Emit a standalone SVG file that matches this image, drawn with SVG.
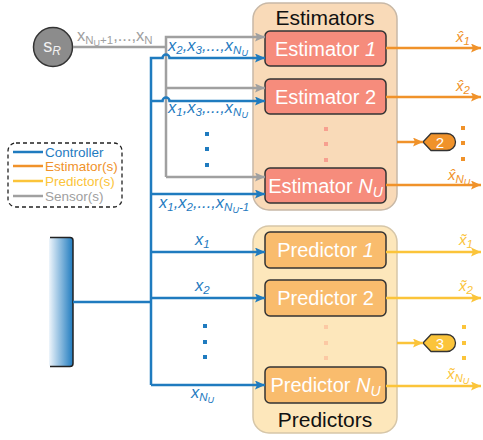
<svg xmlns="http://www.w3.org/2000/svg" width="483" height="440" viewBox="0 0 483 440">
<style>
text{font-family:"Liberation Sans",Arial,sans-serif}
.box{stroke:#333;stroke-width:1.5}
.est{fill:#f68c7c}
.pred{fill:#f9bc6d}
.bt{font-size:20px;fill:#fff}
.title{font-size:21px;fill:#111}
.lb{font-size:16.5px;font-style:italic;fill:#1f7bbf}
.s{font-size:11.5px}
.ss{font-size:9px}
.gl{fill:#a0a0a0;font-size:16.5px}
.ol{fill:#f0922a;font-size:15px;font-style:italic}
.yl{fill:#fbc43a;font-size:15px;font-style:italic}
.g{stroke:#a0a0a0;stroke-width:2.5;fill:none}
.b{stroke:#1f7bbf;stroke-width:2.5;fill:none}
.o{stroke:#f0922a;stroke-width:2.5;fill:none}
.y{stroke:#fbc43a;stroke-width:2.5;fill:none}
.leg{font-size:13.5px}
</style>
<defs>
<marker id="ag" markerUnits="userSpaceOnUse" markerWidth="11" markerHeight="10" refX="10" refY="4.5" orient="auto"><path d="M0,0 L10,4.5 L0,9 L2,4.5z" fill="#a0a0a0"/></marker>
<marker id="ab" markerUnits="userSpaceOnUse" markerWidth="11" markerHeight="10" refX="10" refY="4.5" orient="auto"><path d="M0,0 L10,4.5 L0,9 L2,4.5z" fill="#1f7bbf"/></marker>
<marker id="ao" markerUnits="userSpaceOnUse" markerWidth="11" markerHeight="10" refX="10" refY="4.5" orient="auto"><path d="M0,0 L10,4.5 L0,9 L2,4.5z" fill="#f0922a"/></marker>
<marker id="ay" markerUnits="userSpaceOnUse" markerWidth="11" markerHeight="10" refX="10" refY="4.5" orient="auto"><path d="M0,0 L10,4.5 L0,9 L2,4.5z" fill="#fbc43a"/></marker>
<linearGradient id="cg" x1="0" y1="0" x2="1" y2="0"><stop offset="0" stop-color="#eef5fb"/><stop offset="1" stop-color="#1f7bbf"/></linearGradient>
</defs>

<g id="estimators">
<rect x="253" y="3" width="144" height="207" rx="16" fill="#f9dab8" stroke="#c8b8a6" stroke-width="1.5"/>
<text class="title" x="325" y="25" text-anchor="middle">Estimators</text>
<g fill="#f7a090"><rect x="324" y="127" width="4" height="4"/><rect x="324" y="142" width="4" height="4"/><rect x="324" y="158" width="4" height="4"/></g>
</g>
<g id="estimator1"><rect class="box est" x="265" y="31" width="121" height="35" rx="5"/><text class="bt" x="325.5" y="56" text-anchor="middle">Estimator <tspan font-style="italic">1</tspan></text></g>
<g id="estimator2"><rect class="box est" x="265" y="79" width="121" height="35" rx="5"/><text class="bt" x="325.5" y="104" text-anchor="middle">Estimator 2</text></g>
<g id="estimatorNU"><rect class="box est" x="265" y="168" width="121" height="35" rx="5"/><text class="bt" x="325.5" y="193" text-anchor="middle">Estimator <tspan font-style="italic">N<tspan font-size="14" dy="4">U</tspan></tspan></text></g>

<g id="predictors">
<rect x="253" y="226" width="144" height="207" rx="16" fill="#fde7bb" stroke="#d6c6a8" stroke-width="1.5"/>
<text class="title" x="325" y="427" text-anchor="middle">Predictors</text>
<g fill="#fcc9a4"><rect x="324" y="325" width="4" height="4"/><rect x="324" y="341" width="4" height="4"/><rect x="324" y="356" width="4" height="4"/></g>
</g>
<g id="predictor1"><rect class="box pred" x="265" y="232" width="121" height="36" rx="5"/><text class="bt" x="325.5" y="257" text-anchor="middle">Predictor <tspan font-style="italic">1</tspan></text></g>
<g id="predictor2"><rect class="box pred" x="265" y="280" width="121" height="36" rx="5"/><text class="bt" x="325.5" y="305" text-anchor="middle">Predictor 2</text></g>
<g id="predictorNU"><rect class="box pred" x="265" y="367" width="121" height="36" rx="5"/><text class="bt" x="325.5" y="392" text-anchor="middle">Predictor <tspan font-style="italic">N<tspan font-size="14" dy="4">U</tspan></tspan></text></g>

<g id="sensor">
<circle cx="53" cy="47" r="19.5" fill="#8c8c8c" stroke="#333" stroke-width="1.5"/>
<text x="52" y="52" text-anchor="middle" fill="#f2f2f2" font-size="18">s<tspan font-size="12" font-style="italic" dy="3">R</tspan></text>
</g>

<g id="controller">
<rect x="49" y="237" width="24" height="130" rx="3" fill="url(#cg)"/>
<path d="M50,237.5 H70 Q73,237.5 73,240.5 V363.5 Q73,366.5 70,366.5 H50" fill="none" stroke="#222" stroke-width="1.5"/>
</g>

<g id="legend">
<rect x="8" y="143" width="114" height="64" rx="8" fill="#fff" stroke="#222" stroke-width="1.3" stroke-dasharray="4,3"/>
<line x1="13" y1="152" x2="43" y2="152" class="b"/>
<line x1="13" y1="166" x2="43" y2="166" class="o"/>
<line x1="13" y1="181" x2="43" y2="181" class="y"/>
<line x1="13" y1="196" x2="43" y2="196" class="g"/>
<text class="leg" x="45" y="157" fill="#1f7bbf">Controller</text>
<text class="leg" x="45" y="171" fill="#f0922a">Estimator(s)</text>
<text class="leg" x="45" y="186" fill="#fbc43a">Predictor(s)</text>
<text class="leg" x="45" y="201" fill="#a0a0a0">Sensor(s)</text>
</g>

<g id="tag2">
<path d="M423,142 L431,133.5 H447 A8.5,8.5 0 0 1 447,150.5 H431 Z" fill="#f0922a" stroke="#333" stroke-width="1.3"/>
<text x="440" y="147.5" text-anchor="middle" fill="#fff" font-size="15">2</text>
</g>
<g id="tag3">
<path d="M423,343 L431,334.5 H447 A8.5,8.5 0 0 1 447,351.5 H431 Z" fill="#fbc43a" stroke="#333" stroke-width="1.3"/>
<text x="440" y="348.5" text-anchor="middle" fill="#fff" font-size="15">3</text>
</g>

<g id="connectors">
<path class="g" d="M73,47 H166"/>
<path class="g" d="M166,177 V37 H265" marker-end="url(#ag)"/>
<path class="g" d="M166,88 H265" marker-end="url(#ag)"/>
<path class="g" d="M166,177 H265" marker-end="url(#ag)"/>
<path class="b" d="M151,385 V58 H162.5 A3.5,3.5 0 0 1 169.5,58 H265" marker-end="url(#ab)"/>
<path class="b" d="M151,101 H162.5 A3.5,3.5 0 0 1 169.5,101 H265" marker-end="url(#ab)"/>
<path class="b" d="M151,194 H265" marker-end="url(#ab)"/>
<path class="b" d="M151,252 H265" marker-end="url(#ab)"/>
<path class="b" d="M151,298 H265" marker-end="url(#ab)"/>
<path class="b" d="M151,385 H265" marker-end="url(#ab)"/>
<path class="b" d="M73,302 H151"/>
<g fill="#1f7bbf"><rect x="205" y="132" width="4" height="4"/><rect x="205" y="147" width="4" height="4"/><rect x="205" y="163" width="4" height="4"/><rect x="203" y="324" width="4" height="4"/><rect x="203" y="340" width="4" height="4"/><rect x="203" y="355" width="4" height="4"/></g>
<path class="o" d="M386,48 H481" marker-end="url(#ao)"/>
<path class="o" d="M386,97 H481" marker-end="url(#ao)"/>
<path class="o" d="M386,185 H481" marker-end="url(#ao)"/>
<path class="o" d="M397,142 H423" marker-end="url(#ao)"/>
<g fill="#f0922a"><rect x="461" y="126" width="4" height="4"/><rect x="461" y="141" width="4" height="4"/><rect x="461" y="157" width="4" height="4"/></g>
<path class="y" d="M386,252 H481" marker-end="url(#ay)"/>
<path class="y" d="M386,298 H481" marker-end="url(#ay)"/>
<path class="y" d="M386,386 H481" marker-end="url(#ay)"/>
<path class="y" d="M397,343 H423" marker-end="url(#ay)"/>
<g fill="#fbc43a"><rect x="462" y="325" width="4" height="4"/><rect x="462" y="341" width="4" height="4"/><rect x="462" y="356" width="4" height="4"/></g>
</g>

<g id="labels">
<text class="gl" x="77" y="41">x<tspan class="s" dy="3">N</tspan><tspan class="ss" dy="2">U</tspan><tspan class="s" dy="-2">+1</tspan><tspan dy="-3">,...,x</tspan><tspan class="s" dy="3">N</tspan></text>
<text class="lb" x="168" y="51">x<tspan class="s" dy="3">2</tspan><tspan dy="-3">,x</tspan><tspan class="s" dy="3">3</tspan><tspan dy="-3">,...,x</tspan><tspan class="s" dy="3">N</tspan><tspan class="ss" dy="2">U</tspan></text>
<text class="lb" x="168" y="113">x<tspan class="s" dy="3">1</tspan><tspan dy="-3">,x</tspan><tspan class="s" dy="3">3</tspan><tspan dy="-3">,...,x</tspan><tspan class="s" dy="3">N</tspan><tspan class="ss" dy="2">U</tspan></text>
<text class="lb" x="159" y="208">x<tspan class="s" dy="3">1</tspan><tspan dy="-3">,x</tspan><tspan class="s" dy="3">2</tspan><tspan dy="-3">,...,x</tspan><tspan class="s" dy="3">N</tspan><tspan class="ss" dy="2">U</tspan><tspan class="s" dy="-2">-1</tspan></text>
<text class="lb" x="195" y="245">x<tspan class="s" dy="3">1</tspan></text>
<text class="lb" x="195" y="291">x<tspan class="s" dy="3">2</tspan></text>
<text class="lb" x="191" y="398">x<tspan class="s" dy="3">N</tspan><tspan class="ss" dy="2">U</tspan></text>
<text class="ol" x="456" y="42">x̂<tspan class="s" dy="3">1</tspan></text>
<text class="ol" x="456" y="91">x̂<tspan class="s" dy="3">2</tspan></text>
<text class="ol" x="448" y="180">x̂<tspan class="s" dy="3">N</tspan><tspan class="ss" dy="2">U</tspan></text>
<text class="yl" x="459" y="245">x̃<tspan class="s" dy="3">1</tspan></text>
<text class="yl" x="459" y="291">x̃<tspan class="s" dy="3">2</tspan></text>
<text class="yl" x="447" y="379">x̃<tspan class="s" dy="3">N</tspan><tspan class="ss" dy="2">U</tspan></text>
</g>
</svg>
